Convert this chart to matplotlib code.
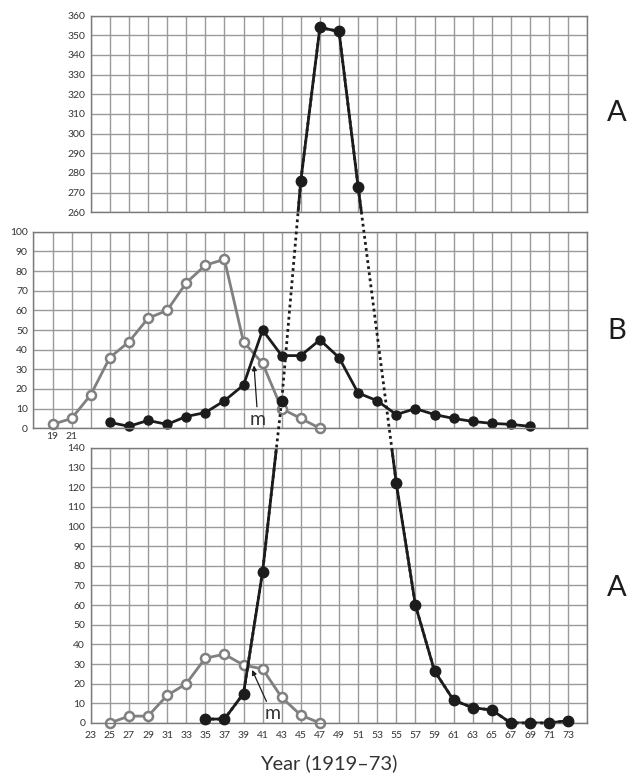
import numpy as np
import matplotlib.pyplot as plt

plt.rcParams['font.family'] = ['Lato', 'DejaVu Sans']

# series A (black, shared scale 0-360 split over top and bottom panels)
a_years = [35, 37, 39, 41, 43, 45, 47, 49, 51, 55, 57, 59, 61, 63, 65, 67, 69, 71, 73]
a_vals = [2, 2, 15, 77, 164, 276, 354, 352, 273, 122, 60, 26.5, 11.6, 7.8, 6.6, 0, 0, 0, 1.2]

# grey series under A
a_grey_years = [25, 27, 29, 31, 33, 35, 37, 39, 41, 43, 45, 47]
a_grey_vals = [0, 3.5, 3.5, 14, 20, 33, 35, 29.5, 27.5, 13, 4, 0]

# series B
b_grey_years = [19, 21, 23, 25, 27, 29, 31, 33, 35, 37, 39, 41, 43, 45, 47]
b_grey_vals = [2, 5, 17, 36, 44, 56, 60, 74, 83, 86, 44, 33, 10, 5, 0]
b_black_years = [25, 27, 29, 31, 33, 35, 37, 39, 41, 43, 45, 47, 49, 51, 53, 55, 57, 59, 61, 63, 65, 67, 69]
b_black_vals = [3, 1, 4, 2, 6, 8, 14, 22, 50, 37, 37, 45, 36, 18, 14, 7, 10, 7, 5, 3.5, 2.5, 2, 1]

mid_xlabels = ['19', '21']
bot_xlabels = [str(y) for y in range(23, 74, 2)]

BLACK = '#1c1c1c'
GREY = '#808080'
GRID = '#9a9a9a'
TXT = '#333333'

fig = plt.figure(figsize=(6.3, 7.77), dpi=100)

x0, x1 = 23, 75
left = 90.7 / 630
width = 496.6 / 630
px_year = width / (x1 - x0)
base = 0.0695
h360 = 0.9103


def style(ax, xlo, xhi, ylo, yhi, ystep):
    ax.set_xlim(xlo, xhi)
    ax.set_ylim(ylo, yhi)
    ax.set_xticks(np.arange(xlo, xhi + 1, 2))
    ax.set_yticks(np.arange(ylo, yhi + 1, ystep))
    ax.grid(True, color=GRID, lw=1.0)
    ax.set_axisbelow(True)
    ax.tick_params(length=0, labelsize=7.5, colors=TXT, pad=4)
    for s in ax.spines.values():
        s.set_color('#7a7a7a')
        s.set_linewidth(1.0)


ax_bot = fig.add_axes([left, base, width, h360 * 140 / 360])
ax_top = fig.add_axes([left, base + h360 * 260 / 360, width, h360 * 100 / 360])
mid_left = left - (x0 - 17) * px_year
ax_mid = fig.add_axes([mid_left, base + h360 * 150 / 360, left + width - mid_left, h360 * 100 / 360])

style(ax_bot, 23, 75, 0, 140, 10)
style(ax_top, 23, 75, 260, 360, 10)
style(ax_mid, 17, 75, 0, 100, 10)

ax_top.set_xticklabels([])
ax_bot.set_xticklabels(bot_xlabels + [''])
ax_bot.tick_params(axis='x', pad=6)
ax_mid.set_xticklabels([str(int(t)) if str(int(t)) in mid_xlabels else ''
                        for t in ax_mid.get_xticks()])
ax_mid.tick_params(axis='x', pad=2.5)

# A: solid parts inside the panels
ax_top.plot(a_years, a_vals, color=BLACK, lw=2)
ax_bot.plot(a_grey_years, a_grey_vals, color=GREY, lw=2, marker='o', ms=6.5,
            mfc='white', mec=GREY, mew=1.8, clip_on=False)
ax_bot.plot(a_years, a_vals, color=BLACK, lw=2)

# B panel
ax_mid.plot(b_grey_years, b_grey_vals, color=GREY, lw=2, marker='o', ms=6.5,
            mfc='white', mec=GREY, mew=1.8, clip_on=False)
ax_mid.plot(b_black_years, b_black_vals, color=BLACK, lw=2, marker='o', ms=6.5,
            mfc=BLACK, mec=BLACK, clip_on=False)

# overlay with the continuous A scale: dotted where the panels break
ax_ov = fig.add_axes([left, base, width, h360])
ax_ov.set_xlim(x0, x1)
ax_ov.set_ylim(0, 360)
ax_ov.axis('off')
ax_ov.set_facecolor('none')
ax_ov.set_zorder(5)
ax_ov.plot(a_years, a_vals, color=BLACK, lw=2, linestyle=(0, (1, 1.2)),
           dash_capstyle='butt', clip_on=False)
ax_ov.plot(a_years, a_vals, linestyle='none', marker='o', ms=7.5,
           mfc=BLACK, mec=BLACK, clip_on=False)

# "m" markers
ax_mid.annotate('m', xy=(40.1, 32), xytext=(40.5, 4.5), ha='center', va='center',
                fontsize=14, color=TXT,
                arrowprops=dict(arrowstyle='-|>', color=BLACK, lw=0.9,
                                mutation_scale=7, shrinkA=1, shrinkB=0))
ax_bot.annotate('m', xy=(39.9, 27), xytext=(42.0, 4.6), ha='center', va='center',
                fontsize=14, color=TXT,
                arrowprops=dict(arrowstyle='-|>', color=BLACK, lw=0.9,
                                mutation_scale=7, shrinkA=1, shrinkB=0))

fig.text(0.979, 0.854, 'A', ha='center', va='center', fontsize=21, color=BLACK)
fig.text(0.979, 0.574, 'B', ha='center', va='center', fontsize=21, color=BLACK)
fig.text(0.979, 0.243, 'A', ha='center', va='center', fontsize=21, color=BLACK)
fig.text(0.522, 0.018, 'Year (1919\u201373)', ha='center', va='center', fontsize=14.5, color=TXT)

fig.savefig('out.png', dpi=100)
